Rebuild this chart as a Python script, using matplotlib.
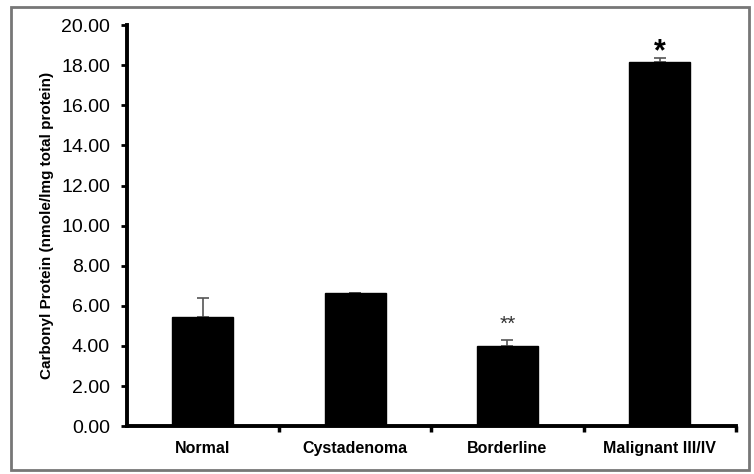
import matplotlib.pyplot as plt
import matplotlib.patches as patches
import numpy as np

plt.rcParams['font.family'] = ['Liberation Sans', 'DejaVu Sans']

# --- data ---
groups = ['Normal', 'Cystadenoma', 'Borderline', 'Malignant III/IV']
means = [5.45, 6.63, 4.00, 18.15]
errs = [0.95, 0.03, 0.30, 0.20]
marks = ['', '', '**', '*']

fig = plt.figure(figsize=(7.54, 4.74), dpi=100)
ax = fig.add_axes([0.168, 0.101, 0.808, 0.846])

x = np.arange(len(groups))
ax.bar(x, means, width=0.4, color='black', edgecolor='black', zorder=2)
ax.errorbar(x, means, yerr=[np.zeros(len(errs)), errs], fmt='none',
            ecolor='#555555', elinewidth=1.2, capsize=4, capthick=1.2, zorder=1)

# significance marks
for xi, m, e, s in zip(x, means, errs, marks):
    if s == '*':
        ax.text(xi, m + e - 0.45, s, ha='center', va='bottom', fontsize=22, fontweight='bold')
    elif s:
        ax.text(xi, m + e + 0.3, s, ha='center', va='bottom', fontsize=15, color='#333333')

ax.set_xlim(-0.5, 3.5)
ax.set_ylim(0, 20)
ax.set_yticks(np.arange(0, 21, 2))
ax.set_yticklabels([f'{v:.2f}' for v in np.arange(0, 21, 2)], fontsize=14)
ax.set_xticks(x)
ax.set_xticklabels(groups, fontsize=11.5, fontweight='bold')
ax.tick_params(axis='x', length=0, pad=11)
ax.set_xticks([0.5, 1.5, 2.5, 3.5], minor=True)
ax.tick_params(axis='x', which='minor', length=4, width=2.5, direction='out')
ax.tick_params(axis='y', length=4, width=2, direction='out', pad=8)

ax.set_ylabel('Carbonyl Protein (nmole/lmg total protein)', fontsize=11, fontweight='bold', labelpad=5)

for side in ['top', 'right']:
    ax.spines[side].set_visible(False)
ax.spines['left'].set_linewidth(2.8)
ax.spines['bottom'].set_linewidth(2.8)

# outer frame
frame = patches.Rectangle((0.014, 0.008), 0.98, 0.978, transform=fig.transFigure,
                          fill=False, edgecolor='#777777', linewidth=2)
fig.patches.append(frame)

fig.savefig('out.png', dpi=100)
